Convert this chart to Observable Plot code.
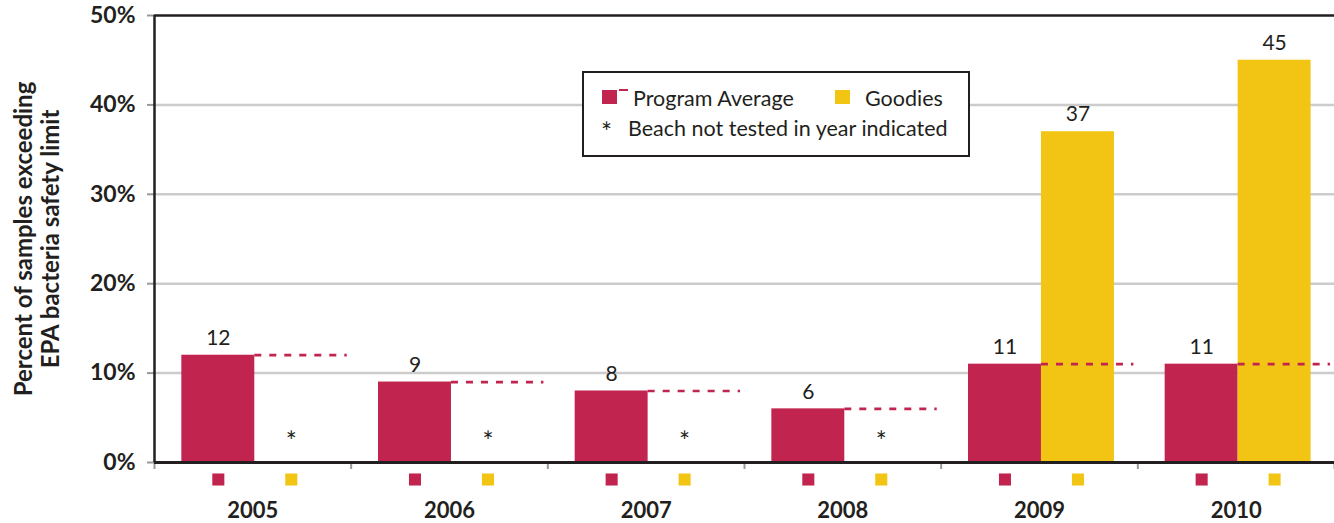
<!DOCTYPE html>
<html><head><meta charset="utf-8">
<script src="https://cdn.jsdelivr.net/npm/d3@7"></script>
<script src="https://cdn.jsdelivr.net/npm/@observablehq/plot@0.6"></script>
<style>
body{margin:0;background:#fff;font-family:Lato,sans-serif;color:#231f20;}
#wrap{position:relative;width:1334px;height:523px;}
#legend{position:absolute;left:582px;top:71px;width:384px;height:82px;border:2px solid #231f20;background:#fff;font-size:21.5px;}
#legend div{position:absolute;}
.sw{width:15px;height:14px;}
.lt{line-height:22px;white-space:nowrap;}
</style></head><body>
<div id="wrap"><div id="chart"></div>
<div id="legend">
  <div class="sw" style="left:18px;top:17px;background:#c1254f"></div>
  <div style="left:35px;top:16px;width:9px;height:2px;background:#c1254f"></div>
  <div class="lt" style="left:49px;top:14px">Program Average</div>
  <div class="sw" style="left:251px;top:17px;background:#f2c515"></div>
  <div class="lt" style="left:281px;top:14px">Goodies</div>
  <div class="lt" style="left:17px;top:48px;font-size:26px">*</div>
  <div class="lt" style="left:44px;top:44px">Beach not tested in year indicated</div>
</div></div>
<script>
const years = [2005, 2006, 2007, 2008, 2009, 2010];
const programAverage = [12, 9, 8, 6, 11, 11];
const goodies = [null, null, null, null, 37, 45];
const yTicks = [0, 10, 20, 30, 40, 50];
const yTitle = "Percent of samples exceeding\nEPA bacteria safety limit";

const red = "#c1254f", yellow = "#f2c515", ink = "#231f20";
const data = years.map((y, i) => ({year: y, program: programAverage[i], goodies: goodies[i]}));
const tested = data.filter(d => d.goodies != null);
const notTested = data.filter(d => d.goodies == null);
const boundaries = years.map(y => y - 0.5).concat([years[years.length - 1] + 0.5]);
const s = 0.01, w = 0.371;

const chart = Plot.plot({
  width: 1334, height: 523,
  marginLeft: 154, marginRight: 0, marginTop: 15, marginBottom: 61,
  x: {type: "linear", domain: [2004.5, 2010.5]},
  y: {domain: [0, 50]},
  style: {fontFamily: "Lato, sans-serif", color: ink, background: "white"},
  marks: [
    Plot.ruleY([10, 20, 30, 40], {stroke: "#cccccc", strokeWidth: 2.5}),
    Plot.axisY({ticks: yTicks, tickSize: 7, tickPadding: 12, stroke: "#999", strokeWidth: 2,
      tickFormat: d => d + "%", fontSize: 23, fontWeight: "bold", label: null}),
    Plot.text([yTitle], {frameAnchor: "left", textAnchor: "middle", rotate: -90, dx: -117.5,
      fontSize: 24, fontWeight: "bold", lineHeight: 1.13}),
    Plot.axisX({ticks: boundaries, tickSize: 7, stroke: "#999", strokeWidth: 2, tickFormat: () => "", label: null}),
    Plot.axisX({ticks: years, tickSize: 0, tickPadding: 40, tickFormat: d => String(d),
      fontSize: 22, fontWeight: "bold", label: null}),
    Plot.rectY(data, {x1: d => d.year + s - w, x2: d => d.year + s, y: "program", fill: red}),
    Plot.rectY(tested, {x1: d => d.year + s, x2: d => d.year + s + w, y: "goodies", fill: yellow}),
    Plot.ruleY(data, {y: "program", x1: d => d.year + s, x2: d => d.year + 0.48, stroke: red, strokeWidth: 2.7, strokeDasharray: "7,8"}),
    Plot.text(data, {x: d => d.year + s - w / 2, y: "program", text: d => String(d.program), dy: -17, fontSize: 21}),
    Plot.text(tested, {x: d => d.year + s + w / 2, y: "goodies", text: d => String(d.goodies), dy: -17, fontSize: 21}),
    Plot.text(notTested, {x: d => d.year + s + w / 2, y: 0, text: () => "*", dy: -20, fontSize: 26}),
    Plot.dot(data, {x: d => d.year + s - w / 2, frameAnchor: "bottom", dy: 17, symbol: "square", r: 6.8, fill: red}),
    Plot.dot(data, {x: d => d.year + s + w / 2, frameAnchor: "bottom", dy: 17, symbol: "square", r: 6.8, fill: yellow}),
    Plot.ruleY([0], {stroke: ink, strokeWidth: 3}),
    Plot.ruleY([50], {stroke: ink, strokeWidth: 2.5}),
    Plot.ruleX([2004.5], {stroke: ink, strokeWidth: 2.5})
  ]
});
document.getElementById("chart").appendChild(chart);
</script>
</body></html>
